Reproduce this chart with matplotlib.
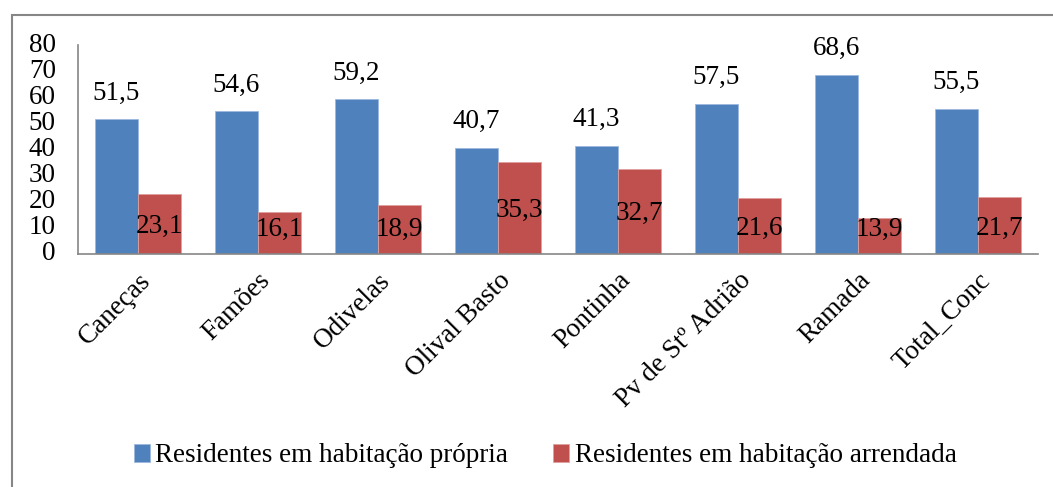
import numpy as np
import matplotlib
matplotlib.use("Agg")
import matplotlib.pyplot as plt
from matplotlib.patches import Rectangle

categories = ["Caneças", "Famões", "Odivelas", "Olival Basto", "Pontinha",
              "Pv de Stº Adrião", "Ramada", "Total_Conc"]
propria = [51.5, 54.6, 59.2, 40.7, 41.3, 57.5, 68.6, 55.5]
arrendada = [23.1, 16.1, 18.9, 35.3, 32.7, 21.6, 13.9, 21.7]
series_names = ["Residentes em habitação própria", "Residentes em habitação arrendada"]
yticks = [0, 10, 20, 30, 40, 50, 60, 70, 80]

plt.rcParams['font.family'] = ['Liberation Serif', 'DejaVu Serif']
fs = 19.5
blue = "#4F81BD"
red = "#C0504D"

fig = plt.figure(figsize=(10.53, 4.87), dpi=100)
ax = fig.add_axes([78/1053, 1 - 254/487, (1038-78)/1053, (254-45)/487])

x = np.arange(len(categories))
w = 0.36
b1 = ax.bar(x - w/2, propria, w, color=blue, edgecolor="#9DB9DD", linewidth=0.6, label=series_names[0])
b2 = ax.bar(x + w/2, arrendada, w, color=red, edgecolor="#E0A09E", linewidth=0.6, label=series_names[1])

for xi, v in zip(x, propria):
    ax.annotate(f"{v:.1f}".replace(".", ","), (xi - w/2, v), xytext=(0, 10),
                textcoords="offset points", ha="center", va="bottom", fontsize=fs)
for xi, v in zip(x, arrendada):
    ax.text(xi + w/2, max(v/2 - 1.0, 9.3), f"{v:.1f}".replace(".", ","),
            ha="center", va="center", fontsize=fs)

ax.set_xlim(-0.5, len(categories) - 0.5)
ax.set_ylim(0, 80)
ax.set_yticks(yticks)
ax.set_yticklabels([str(t) for t in yticks], fontsize=fs)
ax.tick_params(axis="y", length=0, pad=16)
ax.set_xticks(x)
ax.set_xticklabels(categories, fontsize=fs, rotation=45, ha="right", va="top",
                   rotation_mode="anchor")
ax.tick_params(axis="x", length=0, pad=10)
for lab in ax.get_yticklabels():
    lab.set_verticalalignment("center")

for s in ["top", "right"]:
    ax.spines[s].set_visible(False)
for s in ["left", "bottom"]:
    ax.spines[s].set_color("#868686")
    ax.spines[s].set_linewidth(1.2)

fig.legend(handles=[b1, b2], labels=series_names, loc="center",
           bbox_to_anchor=(545/1053, 1 - 456/487), ncol=2, frameon=False,
           fontsize=fs, handlelength=0.6, handleheight=0.6, handletextpad=0.2,
           columnspacing=1.65)

# outer chart border
fig.patches.append(Rectangle((12/1053, -0.1), 1.2, (1 - 15/487) + 0.1,
                             transform=fig.transFigure, fill=False,
                             edgecolor="#868686", linewidth=1.5))

fig.savefig("out.png", dpi=100)
